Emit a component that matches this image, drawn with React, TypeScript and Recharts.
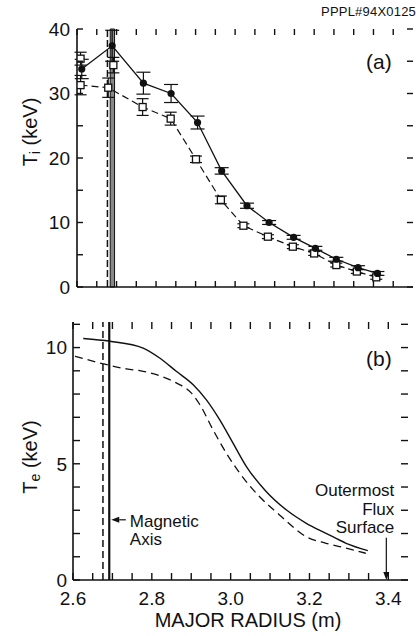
import { ComposedChart, Line, XAxis, YAxis, ErrorBar, ReferenceLine, ReferenceArea } from 'recharts'

// ion temperature, solid (filled circles)
const TI_A_R = [2.612, 2.689, 2.768, 2.838, 2.905, 2.966, 3.03, 3.086, 3.148, 3.203, 3.256, 3.311, 3.36]
const TI_A_V = [33.8, 37.4, 31.6, 30.0, 25.5, 18.0, 12.6, 10.0, 7.7, 6.0, 4.3, 3.0, 2.1]
const TI_A_ERR = [1.5, 2.4, 1.7, 1.4, 1.0, 0.5, 0.4, 0.3, 0.3, 0.3, 0.3, 0.3, 0.3]

// ion temperature, dashed (open squares)
const TI_B_R = [2.609, 2.679, 2.766, 2.837, 2.901, 2.964, 3.021, 3.083, 3.146, 3.2, 3.256, 3.308, 3.357]
const TI_B_V = [31.3, 30.9, 27.9, 26.1, 19.8, 13.5, 9.5, 7.8, 6.25, 5.2, 3.4, 2.4, 1.5]
const TI_B_ERR = [1.5, 1.5, 1.3, 1.0, 0.5, 0.6, 0.3, 0.3, 0.3, 0.3, 0.3, 0.3, 0.3]

// extra open squares without line
const TI_C_R = [2.609, 2.692]
const TI_C_V = [35.4, 34.4]
const TI_C_ERR = [1.0, 1.2]

// electron temperature
const TE_A_R = [2.626, 2.694, 2.778, 2.82, 2.862, 2.905, 2.938, 2.972, 3.006, 3.04, 3.09, 3.141, 3.192, 3.242, 3.293, 3.348]
const TE_A_V = [10.39, 10.27, 9.98, 9.55, 8.98, 8.4, 7.76, 6.9, 5.89, 4.88, 3.81, 3.02, 2.44, 2.01, 1.58, 1.26]
const TE_B_R = [2.605, 2.677, 2.736, 2.778, 2.82, 2.862, 2.9, 2.922, 2.955, 2.989, 3.023, 3.073, 3.124, 3.192, 3.242, 3.293, 3.343]
const TE_B_V = [9.63, 9.3, 9.08, 8.98, 8.79, 8.48, 8.05, 7.54, 6.47, 5.46, 4.6, 3.59, 2.8, 1.86, 1.58, 1.37, 1.15]

const X_TICKS = [2.6, 2.65, 2.7, 2.75, 2.8, 2.85, 2.9, 2.95, 3.0, 3.05, 3.1, 3.15, 3.2, 3.25, 3.3, 3.35, 3.4]
const X_LABELS = [2.6, 2.8, 3.0, 3.2, 3.4]
const TI_TICKS = [0, 5, 10, 15, 20, 25, 30, 35, 40]
const TI_LABELS = [0, 10, 20, 30, 40]
const TE_TICKS = [0, 1, 2, 3, 4, 5, 6, 7, 8, 9, 10, 11]
const TE_LABELS = [0, 5, 10]

const zip3 = (r: number[], v: number[], e: number[]) => r.map((x, i) => ({ r: x, v: v[i], err: e[i] }))
const zip2 = (r: number[], v: number[]) => r.map((x, i) => ({ r: x, v: v[i] }))

const tiSolid = zip3(TI_A_R, TI_A_V, TI_A_ERR)
const tiDashed = zip3(TI_B_R, TI_B_V, TI_B_ERR)
const tiExtra = zip3(TI_C_R, TI_C_V, TI_C_ERR)
const teSolid = zip2(TE_A_R, TE_A_V)
const teDashed = zip2(TE_B_R, TE_B_V)

const INK = '#111'
const FONT = '"Liberation Sans", Arial, sans-serif'
const X_DOM: [number, number] = [2.6, 3.45]
const TI_DOM: [number, number] = [0, 40]
const TE_DOM: [number, number] = [0, 11.1]

// plot boxes of the two panels (follow from the chart margins and axis sizes below)
const BOX_A = { l: 77, r: 413, t: 29, b: 287 }
const BOX_B = { l: 73, r: 408, t: 322, b: 580 }

const has = (list: number[], v: number) => list.some((l) => Math.abs(l - v) < 1e-6)
const xFmt = (v: number) => (has(X_LABELS, v) ? v.toFixed(1) : '')
const tiFmt = (v: number) => (has(TI_LABELS, v) ? String(v) : '')
const teFmt = (v: number) => (has(TE_LABELS, v) ? String(v) : '')

const LeftTick = (fmt: (v: number) => string) => (p: any) => {
  const t = fmt(p.payload.value)
  return t ? <text x={p.x} y={p.y} dy="0.36em" textAnchor="end" fontSize={19} fontFamily={FONT} fill={INK}>{t}</text> : <g />
}
const BottomTick = (p: any) => {
  const t = xFmt(p.payload.value)
  return t ? <text x={p.x} y={p.y} dy="0.74em" textAnchor="middle" fontSize={19} fontFamily={FONT} fill={INK}>{t}</text> : <g />
}

// inward tick marks on all four sides of a panel
const Frame = ({ box, yd, yt, len, id }: { box: typeof BOX_A; yd: number[]; yt: number[]; len: number; id: string }) => {
  const sx = (v: number) => box.l + ((v - X_DOM[0]) / (X_DOM[1] - X_DOM[0])) * (box.r - box.l)
  const sy = (v: number) => box.b - ((v - yd[0]) / (yd[1] - yd[0])) * (box.b - box.t)
  return (
    <g stroke={INK} strokeWidth={1.4}>
      {X_TICKS.map((v) => (
        <g key={id + 'x' + v}>
          <line x1={sx(v)} x2={sx(v)} y1={box.b} y2={box.b - len} />
          <line x1={sx(v)} x2={sx(v)} y1={box.t} y2={box.t + len} />
        </g>
      ))}
      {yt.map((v) => (
        <g key={id + 'y' + v}>
          <line x1={box.l} x2={box.l + len} y1={sy(v)} y2={sy(v)} />
          <line x1={box.r} x2={box.r - len} y1={sy(v)} y2={sy(v)} />
        </g>
      ))}
    </g>
  )
}

const Square = (p: any) => (
  <rect key={p.index} x={p.cx - 3.5} y={p.cy - 3.5} width={7} height={7} fill="#fff" stroke={INK} strokeWidth={1.3} />
)
const Dot = (p: any) => <circle key={p.index} cx={p.cx} cy={p.cy} r={3.6} fill={INK} stroke="none" />

const Arrow = (p: any) => {
  const { x1, y1, x2, y2 } = p
  const a = Math.atan2(y2 - y1, x2 - x1)
  const hx = x2 - 8 * Math.cos(a)
  const hy = y2 - 8 * Math.sin(a)
  const px = -Math.sin(a) * 3
  const py = Math.cos(a) * 3
  return (
    <g>
      <line x1={x1} y1={y1} x2={hx} y2={hy} stroke={INK} strokeWidth={1.2} />
      <polygon points={`${x2},${y2} ${hx + px},${hy + py} ${hx - px},${hy - py}`} fill={INK} />
    </g>
  )
}

const TiLabel = () => (
  <text transform="rotate(-90, 30, 132)" x={30} y={132} textAnchor="middle" dominantBaseline="central" fontSize={20} fontFamily={FONT} fill={INK}>
    T<tspan dy={5} fontSize={14}>i</tspan>
    <tspan dy={-5}> (keV)</tspan>
  </text>
)

const TeLabel = () => (
  <text transform="rotate(-90, 30, 157)" x={30} y={157} textAnchor="middle" dominantBaseline="central" fontSize={20} fontFamily={FONT} fill={INK}>
    T<tspan dy={5} fontSize={14}>e</tspan>
    <tspan dy={-5}> (keV)</tspan>
  </text>
)

const XLabel = () => (
  <text x={248} y={327} textAnchor="middle" fontSize={20} fontFamily={FONT} fill={INK}>
    MAJOR RADIUS (m)
  </text>
)

const MagLabel = (p: any) => {
  const vb = p.viewBox
  const x = vb.x + vb.width + 4
  return (
    <text fontSize={17} fontFamily={FONT} fill={INK}>
      <tspan x={x} y={vb.y + 7}>Magnetic</tspan>
      <tspan x={x} y={vb.y + 25}>Axis</tspan>
    </text>
  )
}

const FluxLabel = (p: any) => {
  const vb = p.viewBox
  const x = vb.x + 8
  return (
    <text fontSize={17} fontFamily={FONT} fill={INK} textAnchor="end">
      <tspan x={x} y={vb.y - 42}>Outermost</tspan>
      <tspan x={x} y={vb.y - 23}>Flux</tspan>
      <tspan x={x} y={vb.y - 5}>Surface</tspan>
    </text>
  )
}

const frame = { stroke: INK, strokeWidth: 1.6 }

export default function App() {
  return (
    <div style={{ position: 'absolute', left: 0, top: 0, width: 416, height: 636, background: '#fff', fontFamily: FONT }}>
      <div style={{ position: 'absolute', right: 0, top: 4, fontSize: 13, color: INK, letterSpacing: 0.2 }}>PPPL#94X0125</div>

      <div style={{ position: 'absolute', left: 0, top: 0 }}>
        <ComposedChart width={416} height={300} margin={{ top: 29, right: 3, bottom: 0, left: 0 }}>
          <XAxis type="number" dataKey="r" domain={X_DOM} ticks={X_TICKS} height={13} tick={false} tickLine={false} axisLine={frame} allowDataOverflow />
          <XAxis xAxisId="top" orientation="top" type="number" dataKey="r" domain={X_DOM} height={0} tick={false} tickLine={false} axisLine={frame} />
          <YAxis type="number" domain={TI_DOM} ticks={TI_TICKS} width={77} interval={0} tickSize={0} tickMargin={7} tickLine={false}
            tick={LeftTick(tiFmt)} axisLine={frame} label={{ content: TiLabel }} />
          <YAxis yAxisId="right" orientation="right" type="number" domain={TI_DOM} width={0} tick={false} tickLine={false} axisLine={frame} />
          <ReferenceLine x={2.677} stroke={INK} strokeWidth={1.5} strokeDasharray="7 3" />
          <ReferenceArea x1={2.684} x2={2.695} y1={0} y2={40} fill="#888" fillOpacity={1} stroke={INK} strokeWidth={1} />
          <Line data={tiDashed} dataKey="v" stroke={INK} strokeWidth={1.2} strokeDasharray="7 4" dot={Square} isAnimationActive={false}>
            <ErrorBar dataKey="err" width={6} stroke={INK} strokeWidth={1.2} />
          </Line>
          <Line data={tiExtra} dataKey="v" stroke="none" dot={Square} isAnimationActive={false}>
            <ErrorBar dataKey="err" width={6} stroke={INK} strokeWidth={1.2} />
          </Line>
          <Line data={tiSolid} dataKey="v" stroke={INK} strokeWidth={1.3} dot={Dot} isAnimationActive={false}>
            <ErrorBar dataKey="err" width={7} stroke={INK} strokeWidth={1.2} />
          </Line>
        </ComposedChart>
      </div>
      <div style={{ position: 'absolute', left: 366, top: 50, fontSize: 21, color: INK }}>(a)</div>

      <div style={{ position: 'absolute', left: 0, top: 300 }}>
        <ComposedChart width={416} height={336} margin={{ top: 22, right: 8, bottom: 0, left: 0 }}>
          <XAxis type="number" dataKey="r" domain={X_DOM} ticks={X_TICKS} height={56} interval={0}
            tickSize={0} tickMargin={11} tickLine={false} tick={BottomTick} axisLine={frame}
            allowDataOverflow label={{ content: XLabel }} />
          <XAxis xAxisId="top" orientation="top" type="number" dataKey="r" domain={X_DOM} height={0} tick={false} tickLine={false} axisLine={frame} />
          <YAxis type="number" domain={TE_DOM} ticks={TE_TICKS} width={73} interval={0} tickSize={0} tickMargin={6} tickLine={false}
            tick={LeftTick(teFmt)} axisLine={frame} allowDataOverflow label={{ content: TeLabel }} />
          <YAxis yAxisId="right" orientation="right" type="number" domain={TE_DOM} width={0} tick={false} tickLine={false} axisLine={frame} />
          <ReferenceLine x={2.676} stroke={INK} strokeWidth={1.5} strokeDasharray="7 4" />
          <ReferenceLine x={2.692} stroke={INK} strokeWidth={2.2} />
          <ReferenceLine segment={[{ x: 2.734, y: 2.59 }, { x: 2.697, y: 2.59 }]} shape={Arrow} label={{ content: MagLabel }} />
          <ReferenceLine segment={[{ x: 3.395, y: 1.82 }, { x: 3.395, y: 0 }]} shape={Arrow} label={{ content: FluxLabel }} />
          <Line data={teDashed} dataKey="v" type="monotone" stroke={INK} strokeWidth={1.3} strokeDasharray="8 5" dot={false} isAnimationActive={false} />
          <Line data={teSolid} dataKey="v" type="monotone" stroke={INK} strokeWidth={1.4} dot={false} isAnimationActive={false} />
        </ComposedChart>
      </div>
      <div style={{ position: 'absolute', left: 366, top: 347, fontSize: 21, color: INK }}>(b)</div>

      <svg width={416} height={636} style={{ position: 'absolute', left: 0, top: 0, pointerEvents: 'none' }}>
        <Frame box={BOX_A} yd={TI_DOM} yt={TI_TICKS} len={6} id="a" />
        <Frame box={BOX_B} yd={TE_DOM} yt={TE_TICKS} len={7} id="b" />
      </svg>
    </div>
  )
}
